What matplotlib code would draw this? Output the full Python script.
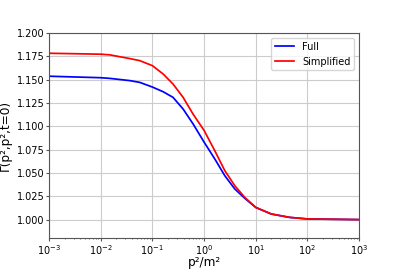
import numpy as np
import matplotlib
matplotlib.use('Agg')
import matplotlib.pyplot as plt

# values (x = p^2/m^2)
x_full = [1e-3, 1e-2, 0.0149, 0.0365, 0.0569, 0.1, 0.161, 0.25, 0.392, 0.612, 1.0, 1.61, 2.52, 3.93, 6.13, 10.0, 20.0, 45.0, 100.0, 1000.0]
full = [1.1536, 1.1520, 1.1513, 1.1489, 1.1470, 1.1420, 1.1370, 1.1310, 1.1185, 1.1025, 1.0830, 1.0650, 1.0470, 1.0328, 1.0228, 1.0130, 1.0060, 1.0024, 1.0007, 1.0000]

x_simp = [1e-3, 1e-2, 0.0149, 0.0365, 0.0569, 0.1, 0.161, 0.25, 0.392, 0.612, 1.0, 1.61, 2.52, 3.93, 6.13, 10.0, 20.0, 45.0, 100.0, 1000.0]
simp = [1.1782, 1.1772, 1.1765, 1.1725, 1.1703, 1.1649, 1.1560, 1.1453, 1.1310, 1.1130, 1.0955, 1.0738, 1.0524, 1.0363, 1.0238, 1.0131, 1.0060, 1.0024, 1.0007, 1.0000]

fig = plt.figure(figsize=(3.99, 2.72), dpi=100)
ax = fig.add_axes([0.123, 0.124, 0.777, 0.755])

ax.plot(x_full, full, color='blue', lw=1.25, label='Full')
ax.plot(x_simp, simp, color='red', lw=1.25, label='Simplified')

ax.set_xscale('log')
ax.set_xlim(1e-3, 1e3)
ax.set_ylim(0.98, 1.2)
ax.set_yticks(np.arange(1.0, 1.2001, 0.025))
ax.yaxis.set_major_formatter(matplotlib.ticker.FormatStrFormatter('%.3f'))
ax.grid(True, color='#cccccc', lw=0.8)
ax.tick_params(labelsize=7, length=2, pad=1.5, color='#555555')
ax.tick_params(which='minor', length=1, color='#555555')
for s in ax.spines.values():
    s.set_color('#555555')
ax.set_xlabel('p²/m²', fontsize=8.7)
ax.set_ylabel('Γ(p²,p²,t=0)', fontsize=8.7)
ax.xaxis.set_label_coords(0.5, -0.085)
ax.yaxis.set_label_coords(-0.119, 0.5)
ax.legend(loc='upper right', fontsize=7)

fig.savefig('out.png', dpi=100)
